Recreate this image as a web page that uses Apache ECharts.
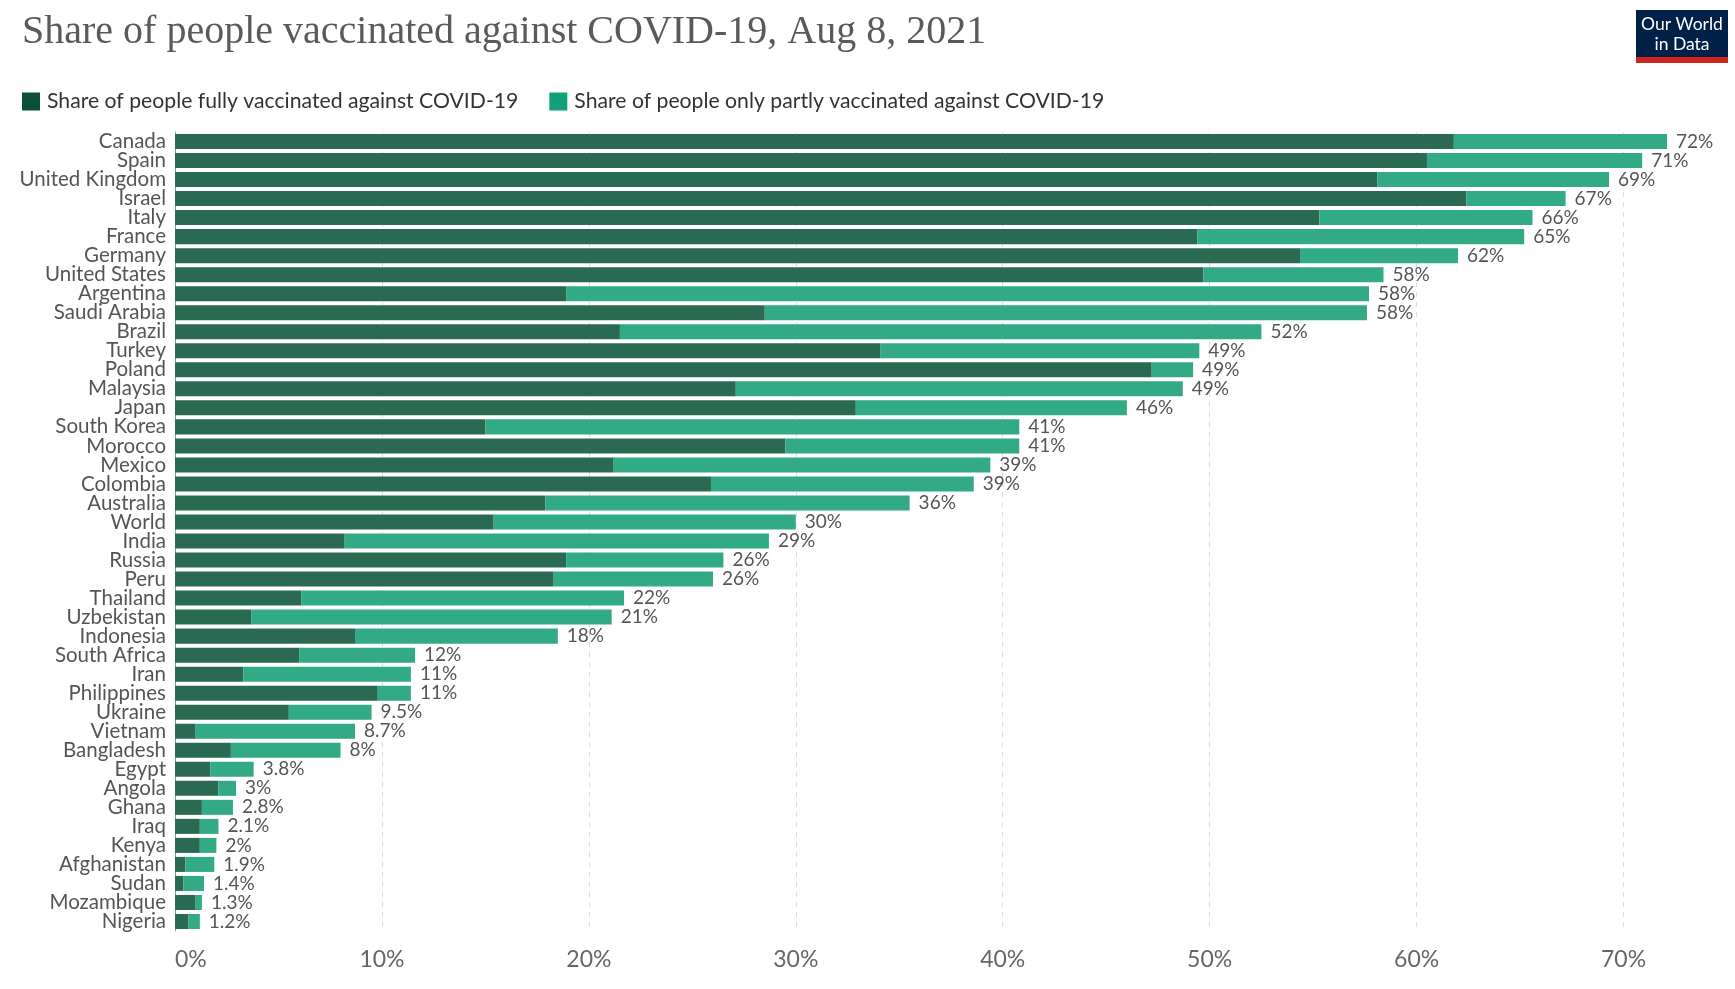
<!DOCTYPE html>
<html>
<head>
<meta charset="utf-8">
<script src="https://cdn.jsdelivr.net/npm/echarts@6/dist/echarts.min.js"></script>
<style>
html,body{margin:0;padding:0;background:#fff;}
#chart{width:1735px;height:989px;}
</style>
</head>
<body>
<div id="chart"></div>
<script>
const countries = ["Canada","Spain","United Kingdom","Israel","Italy","France","Germany","United States","Argentina","Saudi Arabia","Brazil","Turkey","Poland","Malaysia","Japan","South Korea","Morocco","Mexico","Colombia","Australia","World","India","Russia","Peru","Thailand","Uzbekistan","Indonesia","South Africa","Iran","Philippines","Ukraine","Vietnam","Bangladesh","Egypt","Angola","Ghana","Iraq","Kenya","Afghanistan","Sudan","Mozambique","Nigeria"];
const fullyVaccinated = [61.8,60.5,58.1,62.4,55.3,49.4,54.4,49.7,18.9,28.5,21.5,34.1,47.2,27.1,32.9,15.0,29.5,21.2,25.9,17.9,15.4,8.2,18.9,18.3,6.1,3.7,8.7,6.0,3.3,9.8,5.5,1.0,2.7,1.7,2.1,1.3,1.2,1.2,0.5,0.4,1.0,0.65];
const totalVaccinated = [72.1,70.9,69.3,67.2,65.6,65.2,62.0,58.4,57.7,57.6,52.5,49.5,49.2,48.7,46.0,40.8,40.8,39.4,38.6,35.5,30.0,28.7,26.5,26.0,21.7,21.1,18.5,11.6,11.4,11.4,9.5,8.7,8.0,3.8,2.95,2.8,2.1,2.0,1.9,1.4,1.3,1.2];
const totalLabels = ["72%","71%","69%","67%","66%","65%","62%","58%","58%","58%","52%","49%","49%","49%","46%","41%","41%","39%","39%","36%","30%","29%","26%","26%","22%","21%","18%","12%","11%","11%","9.5%","8.7%","8%","3.8%","3%","2.8%","2.1%","2%","1.9%","1.4%","1.3%","1.2%"];
const xTicks = [0,10,20,30,40,50,60,70];
const seriesNames = ["Share of people fully vaccinated against COVID-19","Share of people only partly vaccinated against COVID-19"];

const partlyVaccinated = totalVaccinated.map((t,i)=>+(t - fullyVaccinated[i]).toFixed(3));
const maxTotal = Math.max.apply(null, totalVaccinated);

const chart = echarts.init(document.getElementById('chart'));
const textColor = '#555555';
chart.setOption({
  animation:false,
  backgroundColor:'#ffffff',
  title:{
    text:'Share of people vaccinated against COVID-19, Aug 8, 2021',
    left:17, top:7,
    textStyle:{fontFamily:'Liberation Serif', fontWeight:'normal', fontSize:40, color:'#5a5a5a'}
  },
  legend:{
    left:17, top:86,
    itemWidth:18, itemHeight:18, itemGap:31,
    icon:'rect',
    textStyle:{fontFamily:'Lato', fontSize:21.2, color:'#333333', padding:[0,0,0,2]},
    data:[
      {name:seriesNames[0], itemStyle:{color:'#0b4f38'}},
      {name:seriesNames[1], itemStyle:{color:'#12a07a'}}
    ]
  },
  grid:{left:175, right:68, top:132, bottom:58, containLabel:false},
  xAxis:{
    type:'value', min:0, max:maxTotal, interval:10,
    axisLine:{show:false}, axisTick:{show:false},
    splitLine:{show:true, showMinLine:false, showMaxLine:false, lineStyle:{type:[5,5], color:'#dddddd', width:1}},
    axisLabel:{
      fontFamily:'Lato', fontSize:23, color:'#666666', margin:17,
      alignMinLabel:'left', showMaxLabel:false,
      formatter:(v)=> xTicks.indexOf(Math.round(v))>=0 && Math.abs(v-Math.round(v))<1e-6 ? v+'%' : ''
    }
  },
  yAxis:{
    type:'category', inverse:true, data:countries,
    axisLine:{show:true, lineStyle:{color:'#999999', width:1}},
    axisTick:{show:false},
    axisLabel:{fontFamily:'Lato', fontSize:20.5, color:textColor, margin:9, interval:0}
  },
  series:[
    {
      name:seriesNames[0], type:'bar', stack:'v', data:fullyVaccinated,
      barCategoryGap:'21%',
      itemStyle:{color:'#2b6a52'}
    },
    {
      name:seriesNames[1], type:'bar', stack:'v', data:partlyVaccinated,
      barCategoryGap:'21%',
      itemStyle:{color:'#33aa86'},
      label:{
        show:true, position:'right', distance:9,
        fontFamily:'Lato', fontSize:19, color:textColor,
        formatter:(p)=>totalLabels[p.dataIndex]
      }
    }
  ],
  graphic:[
    {type:'group', left:1636, top:10, children:[
      {type:'rect', shape:{x:0,y:0,width:92,height:47}, style:{fill:'#002147'}},
      {type:'rect', shape:{x:0,y:47,width:92,height:6}, style:{fill:'#ce261e'}},
      {type:'text', style:{x:46,y:14, text:'Our World', fill:'#ffffff', font:'17.5px Lato', textAlign:'center', textVerticalAlign:'middle'}},
      {type:'text', style:{x:46,y:34, text:'in Data', fill:'#ffffff', font:'17.5px Lato', textAlign:'center', textVerticalAlign:'middle'}}
    ]}
  ]
});
</script>
</body>
</html>
